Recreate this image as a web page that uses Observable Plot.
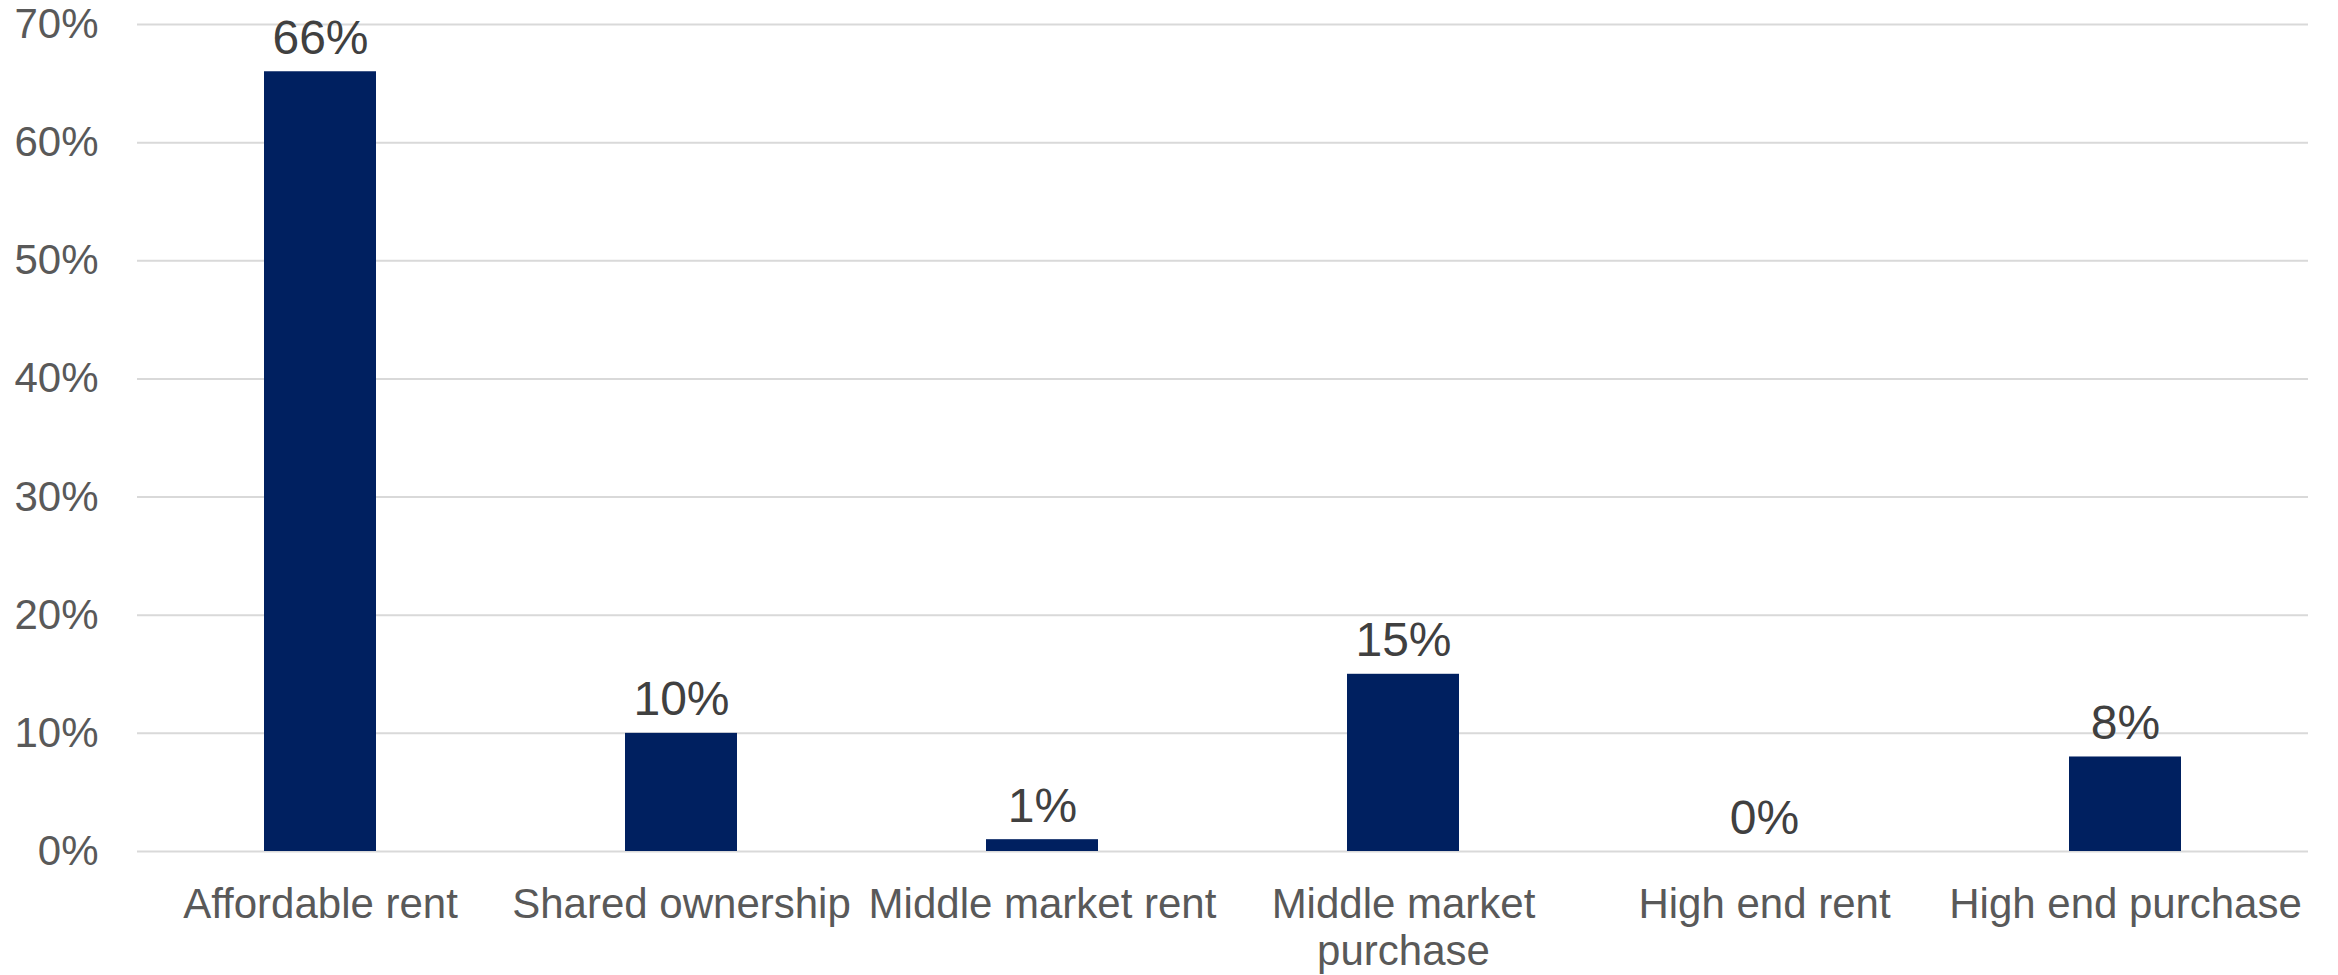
<!DOCTYPE html>
<html>
<head>
<meta charset="utf-8">
<script src="https://cdn.jsdelivr.net/npm/d3@7"></script>
<script src="https://cdn.jsdelivr.net/npm/@observablehq/plot@0.6"></script>
<style>
  html, body { margin: 0; padding: 0; background: #ffffff; }
  #chart svg { display: block; }
</style>
</head>
<body>
<div id="chart"></div>
<script>
const categories = ["Affordable rent", "Shared ownership", "Middle market rent", "Middle market purchase", "High end rent", "High end purchase"];
const tickLabels = ["Affordable rent", "Shared ownership", "Middle market rent", "Middle market\npurchase", "High end rent", "High end purchase"];
const values = [66, 10, 1, 15, 0, 8];
const yTicks = [0, 10, 20, 30, 40, 50, 60, 70];

const data = categories.map((c, i) => ({category: c, value: values[i]}));
const labelOf = new Map(categories.map((c, i) => [c, tickLabels[i]]));

const chart = Plot.plot({
  width: 2338,
  height: 975,
  marginLeft: 137,
  marginRight: 30,
  marginTop: 24,
  marginBottom: 124,
  style: {fontFamily: "'Liberation Sans', Arial, sans-serif", fontSize: "42px", background: "#ffffff"},
  x: {domain: categories, paddingInner: 0.69, paddingOuter: 0.345, label: null},
  y: {domain: [0, 70], label: null},
  marks: [
    Plot.ruleY(yTicks, {stroke: "#d9d9d9", strokeWidth: 2}),
    Plot.barY(data, {x: "category", y: "value", fill: "#002060"}),
    Plot.text(data, {x: "category", y: "value", text: d => d.value + "%", lineAnchor: "bottom", dy: -18, fill: "#404040", fontSize: 48}),
    Plot.axisX({tickSize: 0, tickPadding: 33, tickFormat: d => labelOf.get(d), fill: "#595959", fontSize: 42, lineHeight: 1.12, label: null}),
    Plot.axisY({ticks: yTicks, tickSize: 0, tickPadding: 39, tickFormat: d => d + "%", fill: "#595959", fontSize: 42, label: null})
  ]
});
document.getElementById("chart").appendChild(chart);
</script>
</body>
</html>
